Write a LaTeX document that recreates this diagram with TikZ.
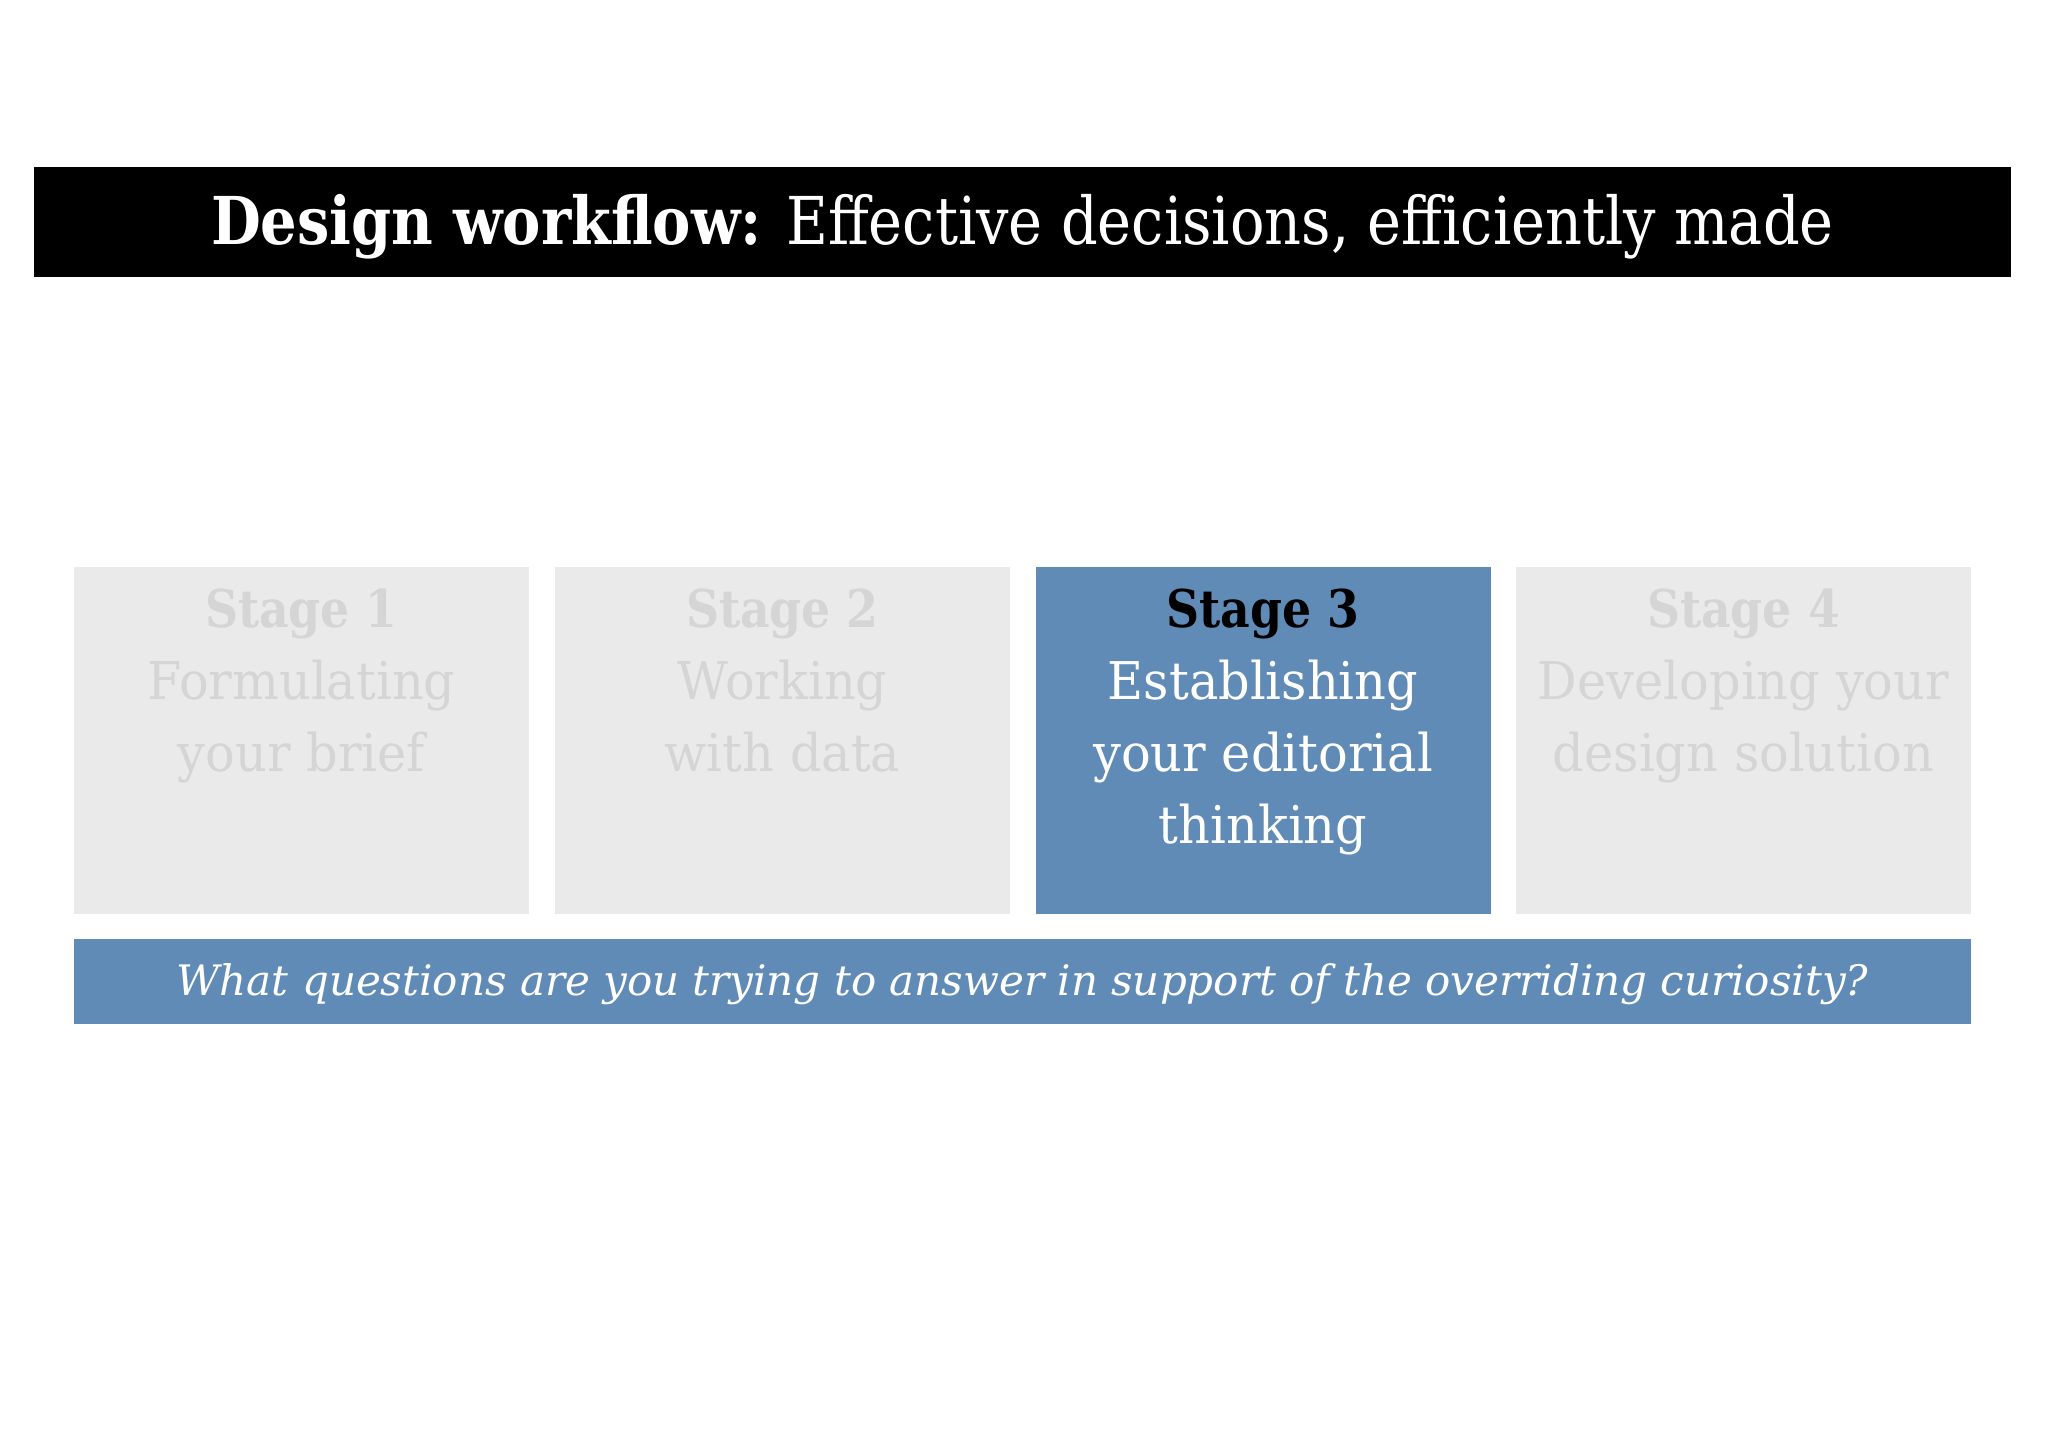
\documentclass[tikz,border=0pt]{standalone}
\usepackage{fontspec}
\setmainfont{DejaVu Serif}
\newfontfamily\titlef[FakeStretch=0.87]{DejaVu Serif}
\newfontfamily\stagef[FakeStretch=0.95,BoldFeatures={FakeStretch=0.88}]{DejaVu Serif}
\definecolor{blueA}{HTML}{5F8BB6}
\definecolor{greyBox}{HTML}{EAEAEA}
\definecolor{greyTxt}{HTML}{D5D5D5}
\begin{document}
\begin{tikzpicture}[x=1pt,y=-1pt,
  titlebar/.style={fill=black,minimum width=1977pt,minimum height=110pt,inner sep=0pt,text=white,text height=44pt,text depth=0pt,font=\titlef\fontsize{66}{70}\selectfont},
  stagebox/.style={minimum width=455pt,minimum height=347pt,inner sep=0pt},
  offbox/.style={stagebox,fill=greyBox},
  onbox/.style={stagebox,fill=blueA},
  stagetext/.style={anchor=north,align=center,inner sep=0pt,font=\stagef\fontsize{52}{72}\selectfont},
  questbar/.style={fill=blueA,minimum width=1897pt,minimum height=85pt,inner sep=0pt,text=white,text height=27pt,text depth=0pt,font=\fontsize{42}{50}\selectfont\itshape}
]
\useasboundingbox[fill=white] (0,0) rectangle (2048,1448);
\node[titlebar] (title) at (1022.5,222) {\textbf{Design workflow:} Effective decisions, efficiently made};
\node[offbox] (s1) at (301.5,740.5) {};
\node[offbox] (s2) at (782.5,740.5) {};
\node[onbox]  (s3) at (1263,740.5) {};
\node[offbox] (s4) at (1743.5,740.5) {};
\node[stagetext,text=greyTxt] (t1) at ([yshift=-22pt]s1.north) {\textbf{Stage 1}\\Formulating\\your brief};
\node[stagetext,text=greyTxt] (t2) at ([yshift=-22pt]s2.north) {\textbf{Stage 2}\\Working\\with data};
\node[stagetext,text=white] (t3) at ([yshift=-22pt]s3.north) {\textcolor{black}{\textbf{Stage 3}}\\Establishing\\your editorial\\thinking};
\node[stagetext,text=greyTxt] (t4) at ([yshift=-22pt]s4.north) {\textbf{Stage 4}\\Developing your\\design solution};
\node[questbar] (q) at (1022.5,981.5) {What questions are you trying to answer in support of the overriding curiosity?};
\end{tikzpicture}
\end{document}
